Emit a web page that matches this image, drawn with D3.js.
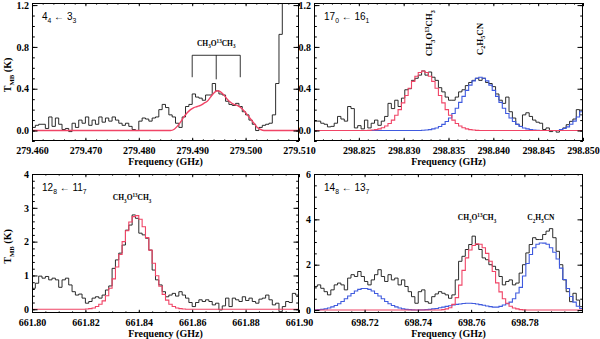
<!DOCTYPE html>
<html>
<head>
<meta charset="utf-8">
<script src="https://cdn.jsdelivr.net/npm/d3@7"></script>
<style>
  body { margin: 0; background: #fff; }
  svg { display: block; }
</style>
</head>
<body>
<div id="plot"></div>
<script>
//Frequency ranges (GHz) of the four panels
var p1Range = [279.460, 279.510];
var p2Range = [298.820, 298.850];
var p3Range = [661.80, 661.90];
var p4Range = [698.701, 698.802];

//Tick labels
var p1XTicks = [279.460, 279.470, 279.480, 279.490, 279.500, 279.510];
var p2XTicks = [298.825, 298.830, 298.835, 298.840, 298.845, 298.850];
var p3XTicks = [661.80, 661.82, 661.84, 661.86, 661.88, 661.90];
var p4XTicks = [698.72, 698.74, 698.76, 698.78];
var topYTicks = [0.0, 0.4, 0.8, 1.2];
var p3YTicks = [0, 1, 2, 3, 4];
var p4YTicks = [0, 2, 4, 6];

//Observed spectra (T_MB in K, one value per channel)
var p1Black = [0.03,0.05,0.06,0.06,0.02,0.13,0.04,0.12,0.06,0.01,
  0.02,-0.01,0.07,0.03,0.10,0.07,0.13,0.05,0.10,0.06,
  0.13,0.08,0.12,0.09,0.13,0.10,0.07,0.05,0.07,0.04,
  0.01,0.00,0.09,0.12,0.11,0.09,0.12,0.13,0.20,0.25,
  0.22,0.15,0.13,0.07,0.03,0.13,0.23,0.25,0.35,0.32,
  0.31,0.29,0.34,0.34,0.45,0.38,0.35,0.34,0.28,0.25,
  0.24,0.26,0.23,0.18,0.15,0.10,0.06,0.00,0.03,0.05,
  0.06,0.07,0.15,0.45,0.92,1.60,1.60,1.60,1.60,1.60];
var p2Black = [0.09,0.09,0.07,0.06,0.035,0.04,0.07,0.135,0.11,0.09,
  0.23,0.21,0.025,0.047,0.016,0.10,0.025,0.07,0.10,0.05,
  0.09,0.135,0.26,0.21,0.29,0.23,0.31,0.39,0.40,0.48,
  0.50,0.53,0.57,0.53,0.56,0.51,0.48,0.41,0.37,0.32,
  0.29,0.29,0.32,0.37,0.39,0.43,0.46,0.48,0.50,0.48,
  0.50,0.46,0.45,0.42,0.35,0.29,0.26,0.32,0.18,0.12,
  0.06,0.04,0.15,0.17,0.135,0.10,0.08,0.07,0.01,0.025,
  -0.01,0.0,-0.015,0.01,0.025,0.056,0.088,0.11,0.20,0.15];
var p3Black = [0.62,0.77,0.98,0.92,0.97,0.87,0.92,0.87,0.65,0.87,
  0.92,0.72,0.52,0.42,0.45,0.33,0.18,0.23,0.33,0.37,
  0.33,0.42,0.57,0.69,1.21,1.46,1.66,1.90,2.34,2.49,
  2.79,2.69,2.25,2.20,2.10,1.75,1.16,0.87,0.72,0.52,
  0.37,0.42,0.47,0.39,0.52,0.42,0.33,0.20,0.08,0.20,
  0.28,0.23,0.28,0.23,0.13,0.18,-0.02,0.10,0.33,0.08,
  0.33,0.28,0.23,0.37,0.26,0.33,0.23,0.18,0.30,0.33,
  0.42,0.28,0.13,0.18,-0.07,0.08,0.23,0.20,0.47,0.42];
var p4Black = [1.04,1.11,0.96,0.81,0.67,0.89,1.11,1.19,1.11,0.89,
  1.41,1.56,1.48,1.70,1.48,1.26,1.11,1.33,1.56,1.78,
  1.48,1.26,1.56,1.33,1.41,1.11,1.33,1.04,0.81,0.59,
  0.30,0.81,0.89,0.37,0.30,0.59,0.71,0.81,0.74,0.67,
  0.52,0.67,1.33,2.15,2.37,2.67,2.89,3.26,2.89,2.67,
  2.30,2.22,2.00,1.93,1.78,1.48,1.11,1.26,1.33,1.11,
  1.19,1.63,2.00,2.52,2.89,3.19,3.11,3.11,3.33,3.48,
  3.59,3.19,2.59,2.00,1.33,0.81,0.37,0.74,0.44,0.15];

//Model fits: CH3O13CH3 (red) and C2H5CN (blue)
var p1Red = [0,0,0,0,0,0,0,0,0,0,
  0,0,0,0,0,0,0,0,0,0,
  0,0,0,0,0,0,0,0,0,0,
  0,0,0,0,0,0,0,0,0,0,
  0,0,0.01,0.04,0.08,0.13,0.17,0.20,0.22,0.23,
  0.24,0.26,0.28,0.32,0.36,0.38,0.37,0.34,0.30,0.27,
  0.25,0.24,0.22,0.19,0.15,0.11,0.07,0.03,0.01,0,
  0,0,0,0,0,0,0,0,0,0];
var p2Red = [0,0,0,0,0,0,0,0,0,0,
  0,0,0,0,0,0,0.002,0.005,0.009,0.016,
  0.027,0.043,0.068,0.10,0.147,0.20,0.265,0.335,0.405,0.47,
  0.52,0.555,0.57,0.555,0.52,0.47,0.405,0.335,0.265,0.20,
  0.147,0.10,0.068,0.043,0.027,0.016,0.009,0.005,0.002,0,
  0,0,0,0,0,0,0,0,0,0,
  0,0,0,0,0,0,0,0,0,0,
  0,0,0,0,0,0,0,0,0,0];
var p2Blue = [0,0,0,0,0,0,0,0,0,0,
  0,0,0,0,0,0,0,0,0,0,
  0,0,0,0,0,0,0,0,0,0,
  0,0,0.003,0.005,0.009,0.016,0.025,0.039,0.059,0.086,
  0.12,0.163,0.213,0.269,0.327,0.384,0.434,0.475,0.50,0.51,
  0.50,0.475,0.434,0.384,0.327,0.269,0.213,0.163,0.12,0.086,
  0.059,0.039,0.025,0.016,0.009,0.005,0.003,0,0,0,
  0,0,0,0.01,0.02,0.035,0.06,0.09,0.13,0.18];
var p3Red = [0,0,0,0,0,0,0,0,0,0,
  0,0,0,0,0,0,0.01,0.02,0.04,0.08,
  0.15,0.25,0.40,0.62,0.90,1.25,1.62,2.00,2.32,2.58,
  2.74,2.77,2.66,2.44,2.12,1.75,1.36,0.99,0.68,0.44,
  0.27,0.15,0.08,0.04,0.02,0.01,0,0,0,0,
  0,0,0,0,0,0,0,0,0,0,
  0,0,0,0,0,0,0,0,0,0,
  0,0,0,0,0,0,0,0,0,0];
var p4Red = [0,0,0,0,0,0,0,0,0,0,
  0,0,0,0,0,0,0,0,0,0,
  0,0,0,0,0,0,0,0,0,0,
  0,0,0,0,0,0,0,0,0.02,0.05,
  0.10,0.25,0.55,1.10,1.75,2.30,2.65,2.85,2.92,2.90,
  2.75,2.50,2.15,1.70,1.20,0.80,0.50,0.30,0.17,0.09,
  0.05,0.02,0.01,0,0,0,0,0,0,0,
  0,0,0,0,0,0,0,0,0,0];
var p4Blue = [0.01,0.02,0.03,0.05,0.09,0.14,0.20,0.28,0.38,0.50,
  0.62,0.73,0.84,0.91,0.95,0.95,0.91,0.84,0.73,0.62,
  0.50,0.38,0.28,0.20,0.14,0.09,0.05,0.03,0.02,0.01,
  0,0.01,0.01,0.02,0.03,0.05,0.07,0.10,0.13,0.16,
  0.19,0.22,0.25,0.27,0.29,0.30,0.30,0.29,0.27,0.24,
  0.21,0.18,0.15,0.13,0.13,0.16,0.22,0.28,0.35,0.50,
  0.75,1.00,1.50,2.05,2.45,2.75,2.90,2.96,2.95,2.90,
  2.75,2.55,2.25,1.85,1.35,0.95,0.60,0.35,0.17,0.07];

//Hyperfine bracket positions in panel 1
var p1Bracket = [279.490, 279.4945, 279.499];

var red = "#f04466";
var blue = "#3f5ade";
var black = "#151515";
var serif = "'Liberation Serif', 'Times New Roman', serif";
var sans = "'Liberation Sans', Arial, sans-serif";

var svg = d3.select("#plot").append("svg")
    .attr("width", 600)
    .attr("height", 339);

//Writes text made of normal / sub / sup pieces
function richText(sel, parts, size) {
  var shift = 0;
  parts.forEach(function(p) {
    var target = p[1] === "sub" ? size * 0.32 : (p[1] === "sup" ? -size * 0.42 : 0);
    sel.append("tspan")
      .attr("dy", target - shift)
      .style("font-size", (p[1] === "n" ? size : size * 0.68) + "px")
      .text(p[0]);
    shift = target;
  });
  return sel;
}

var molA = [["CH","n"],["3","sub"],["O","n"],["13","sup"],["CH","n"],["3","sub"]];
var molB = [["C","n"],["2","sub"],["H","n"],["5","sub"],["CN","n"]];

function minorTicks(domain, m) {
  var n0 = Math.ceil(domain[0] / m - 1e-6), n1 = Math.floor(domain[1] / m + 1e-6);
  return d3.range(n0, n1 + 1).map(function(k) { return k * m; });
}

function drawPanel(cfg, idx) {
  var x = d3.scaleLinear().domain(cfg.xDomain).range([cfg.left, cfg.right]);
  var y = d3.scaleLinear().domain(cfg.yDomain).range([cfg.bottom, cfg.top]);
  var g = svg.append("g");

  //clip region for the spectra
  svg.append("clipPath").attr("id", "clip" + idx)
    .append("rect")
      .attr("x", cfg.left).attr("y", cfg.top)
      .attr("width", cfg.right - cfg.left).attr("height", cfg.bottom - cfg.top);

  var plotG = g.append("g").attr("clip-path", "url(#clip" + idx + ")");

  cfg.series.forEach(function(s) {
    var n = s.vals.length;
    var step = (cfg.xDomain[1] - cfg.xDomain[0]) / n;
    var pts;
    var line = d3.line()
        .x(function(d) { return x(d[0]); })
        .y(function(d) { return y(d[1]); });
    if (s.smooth) {
      pts = s.vals.map(function(v, i) { return [cfg.xDomain[0] + (i + 0.5) * step, v]; });
      pts.unshift([cfg.xDomain[0], s.vals[0]]);
      pts.push([cfg.xDomain[1], s.vals[n - 1]]);
      line.curve(d3.curveMonotoneX);
    } else {
      pts = s.vals.map(function(v, i) { return [cfg.xDomain[0] + i * step, v]; });
      pts.push([cfg.xDomain[1], s.vals[n - 1]]);
      line.curve(d3.curveStepAfter);
    }
    plotG.append("path")
      .datum(pts)
      .attr("fill", "none")
      .attr("stroke", s.color)
      .attr("stroke-width", s.width)
      .attr("d", line);
  });

  //Axes: ticks point inward on all four sides
  function styleAxis(a) {
    a.select(".domain").remove();
    a.selectAll("line").attr("stroke", "#000");
    a.selectAll("text")
      .attr("fill", "#000")
      .style("font-family", serif)
      .style("font-weight", "bold")
      .style("font-size", "10px");
  }
  var xMinor = minorTicks(cfg.xDomain, cfg.xMinor);
  var yMinor = minorTicks(cfg.yDomain, cfg.yMinor);

  g.append("g").attr("transform", "translate(0," + cfg.bottom + ")")
    .call(d3.axisBottom(x).tickValues(xMinor).tickSize(-1.6).tickFormat(""))
    .call(styleAxis);
  g.append("g").attr("transform", "translate(0," + cfg.bottom + ")")
    .call(d3.axisBottom(x).tickValues(cfg.xTicks).tickSize(-3.2).tickPadding(6)
      .tickFormat(d3.format(cfg.xFmt)))
    .call(styleAxis);
  g.append("g").attr("transform", "translate(0," + cfg.top + ")")
    .call(d3.axisTop(x).tickValues(xMinor).tickSize(-1.6).tickFormat(""))
    .call(styleAxis);
  g.append("g").attr("transform", "translate(0," + cfg.top + ")")
    .call(d3.axisTop(x).tickValues(cfg.xTicks).tickSize(-3.2).tickFormat(""))
    .call(styleAxis);
  g.append("g").attr("transform", "translate(" + cfg.left + ",0)")
    .call(d3.axisLeft(y).tickValues(yMinor).tickSize(-2.8).tickFormat(""))
    .call(styleAxis);
  g.append("g").attr("transform", "translate(" + cfg.left + ",0)")
    .call(d3.axisLeft(y).tickValues(cfg.yTicks).tickSize(-5.5).tickPadding(3)
      .tickFormat(d3.format(cfg.yFmt)))
    .call(styleAxis);
  g.append("g").attr("transform", "translate(" + cfg.right + ",0)")
    .call(d3.axisRight(y).tickValues(yMinor).tickSize(-2.8).tickFormat(""))
    .call(styleAxis);
  g.append("g").attr("transform", "translate(" + cfg.right + ",0)")
    .call(d3.axisRight(y).tickValues(cfg.yTicks).tickSize(-5.5).tickFormat(""))
    .call(styleAxis);

  //Frame
  g.append("rect")
    .attr("x", cfg.left + 0.5).attr("y", cfg.top + 0.5)
    .attr("width", cfg.right - cfg.left - 1).attr("height", cfg.bottom - cfg.top - 1)
    .attr("fill", "none").attr("stroke", "#000").attr("stroke-width", 1);

  //Axis titles
  g.append("text")
    .attr("x", (cfg.left + cfg.right) / 2)
    .attr("y", cfg.bottom + 24)
    .attr("text-anchor", "middle")
    .style("font-family", serif).style("font-weight", "bold").style("font-size", "10px")
    .text("Frequency (GHz)");

  if (cfg.yTitle) {
    var yt = g.append("text")
      .attr("transform", "translate(11," + ((cfg.top + cfg.bottom) / 2 + 3) + ") rotate(-90)")
      .attr("text-anchor", "middle")
      .style("font-family", serif).style("font-weight", "bold");
    richText(yt, [["T","n"],["MB","sub"],[" (K)","n"]], 10);
  }

  //Transition label
  var tl = g.append("text")
    .attr("x", cfg.left + 10)
    .attr("y", cfg.top + 17)
    .style("font-family", sans);
  richText(tl, cfg.trans, 10);

  //Molecule labels
  cfg.labels.forEach(function(l) {
    var t = g.append("text")
      .style("font-family", serif).style("font-weight", "bold");
    if (l.rotate) {
      t.attr("transform", "translate(" + x(l.f) + "," + y(l.t) + ") rotate(-90)")
        .attr("text-anchor", "start");
    } else {
      t.attr("x", x(l.f)).attr("y", y(l.t)).attr("text-anchor", "middle");
    }
    richText(t, l.parts, l.size);
  });

  if (cfg.bracket) {
    var bTop = 0.72, bBot = 0.51;
    g.append("line")
      .attr("x1", x(cfg.bracket[0])).attr("x2", x(cfg.bracket[2]))
      .attr("y1", y(bTop)).attr("y2", y(bTop))
      .attr("stroke", "#000").attr("stroke-width", 0.8);
    g.selectAll(".brk").data(cfg.bracket).enter().append("line")
      .attr("x1", function(d) { return x(d); })
      .attr("x2", function(d) { return x(d); })
      .attr("y1", y(bTop))
      .attr("y2", function(d, i) { return y(i === 1 ? bBot - 0.02 : bBot); })
      .attr("stroke", "#000").attr("stroke-width", 0.8);
  }
}

var panels = [
  {
    left: 32, right: 299, top: 3, bottom: 141,
    xDomain: p1Range, yDomain: [-0.1, 1.22],
    xTicks: p1XTicks, yTicks: topYTicks, xMinor: 0.002, yMinor: 0.1,
    xFmt: ".3f", yFmt: ".1f", yTitle: true,
    series: [
      {vals: p1Black, color: black, width: 0.9},
      {vals: p1Red, color: red, width: 1.4, smooth: true}
    ],
    trans: [["4","n"],["4","sub"],[" \u2190 ","n"],["3","n"],["3","sub"]],
    labels: [{f: 279.4945, t: 0.81, parts: molA, size: 7.5}],
    bracket: p1Bracket
  },
  {
    left: 314, right: 583, top: 3, bottom: 141,
    xDomain: p2Range, yDomain: [-0.1, 1.22],
    xTicks: p2XTicks, yTicks: topYTicks, xMinor: 0.001, yMinor: 0.1,
    xFmt: ".3f", yFmt: ".1f",
    series: [
      {vals: p2Black, color: black, width: 0.9},
      {vals: p2Blue, color: blue, width: 1.1},
      {vals: p2Red, color: red, width: 1.1}
    ],
    trans: [["17","n"],["0","sub"],[" \u2190 ","n"],["16","n"],["1","sub"]],
    labels: [
      {f: 298.8332, t: 0.71, parts: molA, size: 9, rotate: true},
      {f: 298.8388, t: 0.72, parts: molB, size: 9, rotate: true}
    ]
  },
  {
    left: 32, right: 299, top: 174, bottom: 313,
    xDomain: p3Range, yDomain: [-0.11, 4],
    xTicks: p3XTicks, yTicks: p3YTicks, xMinor: 0.005, yMinor: 0.2,
    xFmt: ".2f", yFmt: "d", yTitle: true,
    series: [
      {vals: p3Black, color: black, width: 0.9},
      {vals: p3Red, color: red, width: 1.1}
    ],
    trans: [["12","n"],["8","sub"],[" \u2190 ","n"],["11","n"],["7","sub"]],
    labels: [{f: 661.8375, t: 3.22, parts: molA, size: 7.5}]
  },
  {
    left: 314, right: 583, top: 174, bottom: 313,
    xDomain: p4Range, yDomain: [-0.13, 6],
    xTicks: p4XTicks, yTicks: p4YTicks, xMinor: 0.005, yMinor: 0.5,
    xFmt: ".2f", yFmt: "d",
    series: [
      {vals: p4Black, color: black, width: 0.9},
      {vals: p4Blue, color: blue, width: 1.1},
      {vals: p4Red, color: red, width: 1.1}
    ],
    trans: [["14","n"],["8","sub"],[" \u2190 ","n"],["13","n"],["7","sub"]],
    labels: [
      {f: 698.7622, t: 3.95, parts: molA, size: 7.5},
      {f: 698.7862, t: 3.95, parts: molB, size: 7.5}
    ]
  }
];

panels.forEach(drawPanel);
</script>
</body>
</html>
